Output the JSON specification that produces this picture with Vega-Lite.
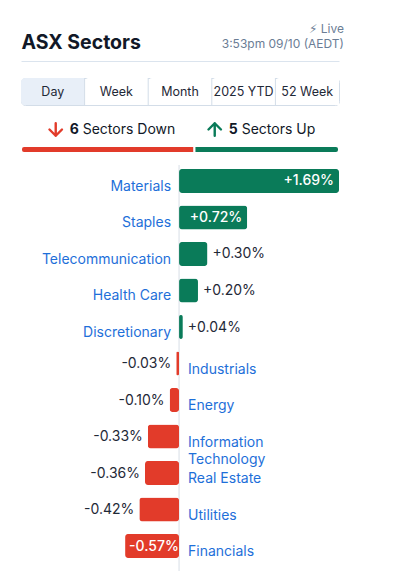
{
  "$schema": "https://vega.github.io/schema/vega-lite/v6.json",
  "background": "white",
  "autosize": {"type": "pad"},
  "padding": {"left": 20, "top": 22, "right": 20, "bottom": 8},
  "config": {
    "font": "Inter",
    "view": {"stroke": null},
    "locale": {"number": {"decimal": ".", "thousands": ",", "grouping": [3], "currency": ["$", ""], "minus": "-"}}
  },
  "title": {
    "text": "⚡︎ Live",
    "subtitle": "3:53pm 09/10 (AEDT)",
    "anchor": "end",
    "font": "Inter, DejaVu Sans",
    "fontSize": 12,
    "fontWeight": "normal",
    "color": "#6b7d95",
    "subtitleFont": "Inter",
    "subtitleFontSize": 12,
    "subtitleColor": "#6b7d95",
    "subtitlePadding": 3,
    "offset": -19
  },
  "datasets": {
    "tabs": [
      {"tab": "Day", "selected": true},
      {"tab": "Week", "selected": false},
      {"tab": "Month", "selected": false},
      {"tab": "2025 YTD", "selected": false},
      {"tab": "52 Week", "selected": false}
    ],
    "summary": [
      {"dir": "Down", "n": 6, "label": "Sectors Down"},
      {"dir": "Up", "n": 5, "label": "Sectors Up"}
    ],
    "sectors": [
      {"sector": "Materials", "change": 0.0169},
      {"sector": "Staples", "change": 0.0072},
      {"sector": "Telecommunication", "change": 0.0030},
      {"sector": "Health Care", "change": 0.0020},
      {"sector": "Discretionary", "change": 0.0004},
      {"sector": "Industrials", "change": -0.0003},
      {"sector": "Energy", "change": -0.0010},
      {"sector": "Information\nTechnology", "change": -0.0033},
      {"sector": "Real Estate", "change": -0.0036},
      {"sector": "Utilities", "change": -0.0042},
      {"sector": "Financials", "change": -0.0057}
    ]
  },
  "bounds": "flush",
  "spacing": 12,
  "vconcat": [
    {
      "data": {"name": "tabs"},
      "width": 318,
      "height": 27,
      "view": {"stroke": "#d3dde8", "strokeWidth": 1, "cornerRadius": 4},
      "encoding": {
        "x": {
          "field": "tab", "type": "nominal", "sort": null,
          "scale": {"paddingInner": 0, "paddingOuter": 0},
          "axis": {
            "orient": "top", "offset": 17, "domainColor": "#dbe4ee", "domainWidth": 1,
            "ticks": false, "labels": false,
            "title": "ASX Sectors", "titleAnchor": "start", "titleAlign": "left",
            "titleFontSize": 19.5, "titleFontWeight": "bold", "titleColor": "#111827",
            "titlePadding": 13, "titleBaseline": "alphabetic"
          }
        }
      },
      "layer": [
        {
          "mark": {"type": "bar", "cornerRadiusTopLeft": 4, "cornerRadiusBottomLeft": 4},
          "encoding": {"color": {"condition": {"test": "datum.selected", "value": "#e8eff8"}, "value": "#ffffff"}}
        },
        {
          "mark": {"type": "rule", "color": "#d3dde8"},
          "encoding": {
            "x": {"field": "tab", "type": "nominal", "sort": null, "bandPosition": 0},
            "opacity": {"condition": {"test": "datum.selected", "value": 0}, "value": 1}
          }
        },
        {
          "mark": {"type": "text", "fontSize": 12.5, "color": "#1f2937"},
          "encoding": {"text": {"field": "tab"}}
        }
      ]
    },
    {
      "data": {"name": "summary"},
      "width": 318,
      "height": 36,
      "encoding": {
        "y": {"datum": "bar", "type": "nominal", "scale": {"domain": ["label", "bar"], "paddingInner": 0.7586, "paddingOuter": 0}, "axis": null}
      },
      "layer": [
        {
          "mark": {"type": "bar", "cornerRadius": 3, "stroke": "white", "strokeWidth": 2},
          "encoding": {
            "x": {"field": "n", "type": "quantitative", "stack": "zero", "axis": null, "scale": {"nice": false}},
            "color": {"field": "dir", "type": "nominal", "scale": {"domain": ["Down", "Up"], "range": ["#e23b2a", "#0a7b59"]}, "legend": null},
            "order": {"field": "dir", "sort": "ascending"}
          }
        },
        {
          "transform": [
            {"stack": "n", "groupby": [], "sort": [{"field": "dir", "order": "ascending"}], "as": ["x0", "x1"]},
            {"fold": ["x0", "x1"], "as": ["edge", "edgePos"]},
            {"aggregate": [{"op": "mean", "field": "edgePos", "as": "mid"}], "groupby": ["dir", "n", "label"]}
          ],
          "encoding": {
            "x": {"field": "mid", "type": "quantitative", "axis": null, "scale": {"nice": false}},
            "y": {"datum": "label", "type": "nominal"}
          },
          "layer": [
            {
              "mark": {"type": "point", "filled": false, "size": 156, "strokeWidth": 2.4, "strokeCap": "round", "strokeJoin": "round", "opacity": 1, "xOffset": -52, "yOffset": 9}, 
              "encoding": {
                "shape": {"field": "dir", "type": "nominal", "scale": {"domain": ["Down", "Up"], "range": ["M0,-1L0,1M1,0L0,1L-1,0", "M0,1L0,-1M1,0L0,-1L-1,0"]}, "legend": null},
                "color": {"field": "dir", "type": "nominal", "legend": null}
              }
            },
            {
              "mark": {"type": "text", "align": "right", "baseline": "middle", "dx": -29, "dy": 9.5, "fontSize": 14, "fontWeight": "bold", "color": "#111827"},
              "encoding": {"text": {"field": "n", "type": "quantitative"}}
            },
            {
              "mark": {"type": "text", "align": "left", "baseline": "middle", "dx": -25, "dy": 9.5, "fontSize": 14, "color": "#111827"},
              "encoding": {"text": {"field": "label"}}
            }
          ]
        }
      ]
    },
    {
      "width": 318,
      "height": 406,
      "layer": [
        {
          "data": {"values": [{}]},
          "mark": {"type": "rule", "color": "#d8dee6", "strokeWidth": 1},
          "encoding": {"x": {"datum": 0, "type": "quantitative", "scale": {"domain": [-0.0167, 0.0169], "nice": false}, "axis": null}}
        },
        {
          "data": {"name": "sectors"},
          "encoding": {
            "y": {
              "field": "sector", "type": "nominal",
              "sort": {"field": "change", "op": "min", "order": "descending"},
              "scale": {"paddingInner": 0.342, "paddingOuter": 0.2326, "align": 0.235},
              "axis": null
            }
          },
          "layer": [
            {
              "mark": {"type": "bar", "cornerRadius": 3},
              "encoding": {
                "x": {
                  "field": "change", "type": "quantitative",
                  "scale": {"domain": [-0.0167, 0.0169], "nice": false},
                  "axis": {"orient": "bottom", "offset": 3, "domainColor": "#dfe6ee", "domainWidth": 1, "ticks": false, "labels": false, "grid": false, "title": null}
                },
                "color": {"condition": {"test": "datum.change > 0", "value": "#0a7b59"}, "value": "#e23b2a"}
              }
            },
            {
              "mark": {"type": "text", "align": "right", "baseline": "alphabetic", "dx": -8, "dy": 10, "fontSize": 14, "color": "#1e6fd9"},
              "encoding": {
                "x": {"datum": 0, "type": "quantitative", "axis": null},
                "text": {"condition": {"test": "datum.change > 0", "field": "sector"}, "value": ""}
              }
            },
            {
              "mark": {"type": "text", "align": "left", "baseline": "alphabetic", "dx": 9, "dy": 10, "fontSize": 14, "color": "#1e6fd9", "lineBreak": "\n", "lineHeight": 17},
              "encoding": {
                "x": {"datum": 0, "type": "quantitative", "axis": null},
                "text": {"condition": {"test": "datum.change < 0", "field": "sector"}, "value": ""}
              }
            },
            {
              "mark": {"type": "text", "align": "left", "baseline": "middle", "dx": 5, "dy": 0.5, "fontSize": 14, "color": "#1f2937"},
              "encoding": {
                "x": {"field": "change", "type": "quantitative", "axis": null},
                "text": {"condition": {"test": "datum.change > 0 && datum.change < 0.005", "field": "change", "format": "+.2%"}, "value": ""}
              }
            },
            {
              "mark": {"type": "text", "align": "right", "baseline": "middle", "dx": -5, "dy": 0.5, "fontSize": 14, "fontWeight": 500, "color": "#ffffff"},
              "encoding": {
                "x": {"field": "change", "type": "quantitative", "axis": null},
                "text": {"condition": {"test": "datum.change >= 0.005", "field": "change", "format": "+.2%"}, "value": ""}
              }
            },
            {
              "mark": {"type": "text", "align": "right", "baseline": "middle", "dx": -5, "dy": 0.5, "fontSize": 14, "color": "#1f2937"},
              "encoding": {
                "x": {"field": "change", "type": "quantitative", "axis": null},
                "text": {"condition": {"test": "datum.change < 0 && datum.change > -0.005", "field": "change", "format": "+.2%"}, "value": ""}
              }
            },
            {
              "mark": {"type": "text", "align": "left", "baseline": "middle", "dx": 4, "dy": 0.5, "fontSize": 14, "fontWeight": 500, "color": "#ffffff"},
              "encoding": {
                "x": {"field": "change", "type": "quantitative", "axis": null},
                "text": {"condition": {"test": "datum.change <= -0.005", "field": "change", "format": "+.2%"}, "value": ""}
              }
            }
          ]
        }
      ]
    }
  ]
}
